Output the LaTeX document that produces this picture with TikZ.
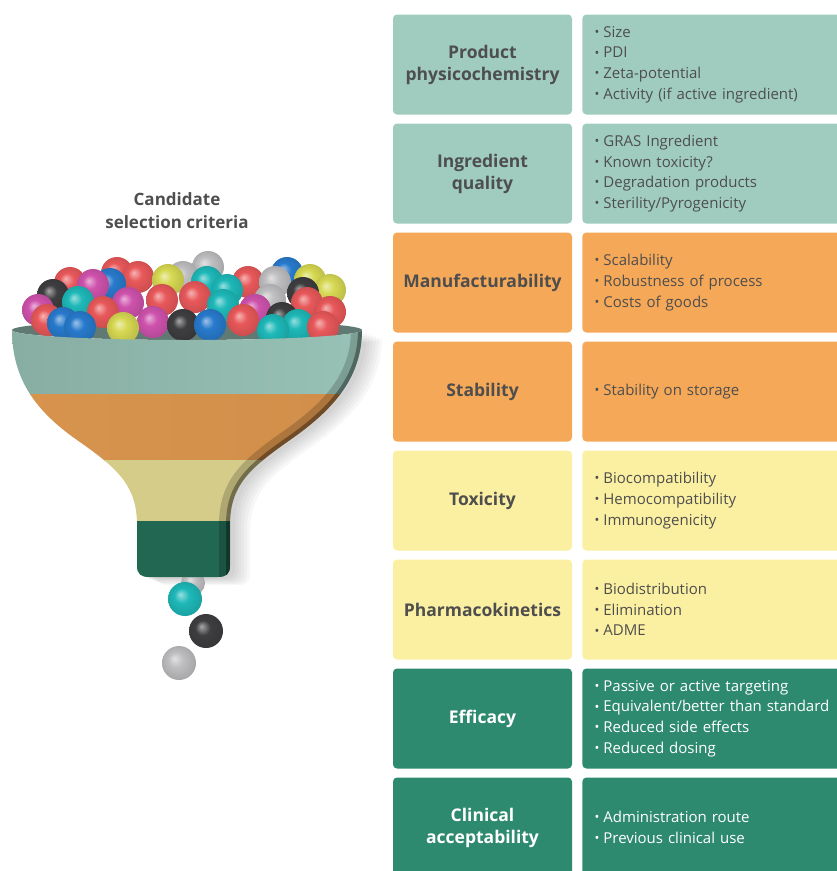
\documentclass[tikz,border=0pt]{standalone}
\usepackage{fontspec}
\setmainfont{Open Sans}
\usepackage{graphicx}
\usetikzlibrary{positioning}
\definecolor{critteal}{RGB}{160, 204, 192}
\definecolor{critorange}{RGB}{245, 168, 88}
\definecolor{crityellow}{RGB}{251, 240, 162}
\definecolor{critgreen}{RGB}{46, 138, 110}
\definecolor{textgray}{RGB}{78, 78, 78}
\definecolor{ballred}{RGB}{232, 88, 90}
\definecolor{ballmag}{RGB}{206, 82, 172}
\definecolor{ballcyan}{RGB}{30, 184, 184}
\definecolor{ballblue}{RGB}{40, 122, 204}
\definecolor{ballyellow}{RGB}{214, 216, 82}
\definecolor{balldark}{RGB}{62, 62, 64}
\definecolor{ballgray}{RGB}{190, 190, 192}
\colorlet{candcol}{ballred}
\pgfdeclareradialshading[candcol]{candball}{\pgfpoint{-7bp}{7bp}}{color(0bp)=(candcol!45!white); color(11bp)=(candcol); color(26bp)=(candcol!88!black); color(34bp)=(candcol!65!black)}
\newcommand{\bul}{\makebox[21pt][r]{\raisebox{0.1ex}{\scalebox{0.85}{\textbullet}}\hspace{4pt}}}
\newcommand{\funnelpath}{(12,330) arc [start angle=180, end angle=0, x radius=175, y radius=10]
      .. controls (362,380) and (330,412) .. (290,440)
      .. controls (250,468) and (230,485) .. (230,525)
      -- (230,566) .. controls (230,574) and (226,577) .. (218,577)
      -- (149,577) .. controls (141,577) and (137,574) .. (137,566)
      -- (137,525) .. controls (137,485) and (117,468) .. (77,440)
      .. controls (37,412) and (12,380) .. cycle}
\tikzset{
  critbox/.style={rounded corners=4pt, minimum width=179pt, minimum height=100pt, inner sep=0pt,
    align=center, text=textgray, font=\fontsize{17.5}{22}\selectfont\bfseries},
  listbox/.style={rounded corners=4pt, minimum width=263pt, minimum height=100pt, inner xsep=0pt, inner ysep=0pt,
    text width=263pt, align=left, text=textgray, font=\fontsize{15}{20.7}\selectfont},
  tealrow/.style={fill=critteal},
  orangerow/.style={fill=critorange},
  yellowrow/.style={fill=crityellow},
  greenrow/.style={fill=critgreen, text=white},
  ball/.style={/utils/exec={\colorlet{candcol}{#1}}, shading=candball},
}

\begin{document}
\begin{tikzpicture}[x=1pt, y=-1pt]
  \useasboundingbox (0,0) rectangle (837,871);
  \clip (0,0) rectangle (837,871);

  % Funnel title
  \node[align=center, text=textgray, font=\fontsize{17}{23}\selectfont\bfseries] (crit) at (177,211) {Candidate\\selection criteria};

  % Soft shadow of the funnel
  \foreach \sh in {20,17,14,11,8,5}
    \fill[black, opacity=0.03, xshift=\sh pt, yshift=-0.4*\sh pt] \funnelpath;

  % Bowl inside
  \fill[critteal!60!black] (187,330) ellipse [x radius=175, y radius=10];

  % Candidates in the bowl
  \foreach \bx/\by/\bc in {208/267/ballgray, 287/273/ballblue, 117/273/ballred, 183/277/ballgray, 138/277/ballred,
      168/280/ballyellow, 310/280/ballyellow, 207/282/ballcyan, 248/282/ballred, 275/282/ballgray, 110/284/ballblue,
      70/283/ballred, 93/285/ballmag, 227/290/ballcyan, 330/290/ballyellow, 303/293/balldark, 53/295/balldark,
      270/300/ballgray, 195/297/ballred, 162/300/ballred, 78/302/ballcyan, 128/303/ballmag, 307/303/ballred,
      223/305/ballcyan, 38/310/ballmag, 255/310/ballmag, 103/312/ballred, 330/312/ballred,
      282/318/balldark, 243/320/ballred, 47/320/ballred, 153/322/ballmag, 63/323/ballblue, 298/325/ballcyan,
      183/325/balldark, 210/325/ballblue, 323/327/ballred, 80/327/ballblue, 273/330/ballcyan, 123/328/ballyellow}
    \shade[ball=\bc] (\bx,\by) circle [radius=16];

  % Candidate leaving the stem
  \shade[ball=ballgray] (193,583) circle [radius=12];

  % Funnel front
  \begin{scope}
    \clip \funnelpath;
    \shade[left color=critteal!85!black, middle color=critteal!45!white, right color=critteal!95!black] (12,320) rectangle (362,394);
    \shade[left color=critorange!88!black, middle color=critorange!95!white, right color=critorange!85!black] (20,394) rectangle (345,460);
    \shade[left color=crityellow!85!black, middle color=crityellow!70!white, right color=crityellow!85!black] (95,460) rectangle (270,521);
    \shade[left color=critgreen!75!black, middle color=critgreen!55!white, right color=critgreen!75!black] (137,521) rectangle (230,580);
    % darker right edge
    \draw[black, opacity=0.18, line width=22pt] (362,330) .. controls (362,380) and (330,412) .. (290,440)
      .. controls (250,468) and (230,485) .. (230,525) -- (230,590);
    \draw[black, opacity=0.35, line width=8pt] (362,330) .. controls (362,380) and (330,412) .. (290,440)
      .. controls (250,468) and (230,485) .. (230,525) -- (230,590);
  \end{scope}

  % Falling candidates
  \shade[ball=ballcyan] (185,599) circle [radius=17];
  \shade[ball=balldark] (206,631) circle [radius=17];
  \shade[ball=ballgray] (179,663) circle [radius=17];

  % Criteria
  \node[critbox, tealrow] (phys) at (482.5,64.5) {Product\\physicochemistry};
  \node[critbox, tealrow, below=8.6pt of phys] (qual) {Ingredient\\quality};
  \node[critbox, orangerow, below=8.6pt of qual] (manu) {Manufacturability};
  \node[critbox, orangerow, below=8.6pt of manu] (stab) {Stability};
  \node[critbox, yellowrow, below=8.6pt of stab] (tox) {Toxicity};
  \node[critbox, yellowrow, below=8.6pt of tox] (pk) {Pharmacokinetics};
  \node[critbox, greenrow, below=8.6pt of pk] (eff) {Efficacy};
  \node[critbox, greenrow, below=8.6pt of eff] (clin) {Clinical\\acceptability};

  % Details
  \node[listbox, tealrow, right=10pt of phys] (physlist) {\bul Size\\\bul PDI\\\bul Zeta-potential\\\bul Activity (if active ingredient)};
  \node[listbox, tealrow, right=10pt of qual] (quallist) {\bul GRAS Ingredient\\\bul Known toxicity?\\\bul Degradation products\\\bul Sterility/Pyrogenicity};
  \node[listbox, orangerow, right=10pt of manu] (manulist) {\bul Scalability\\\bul Robustness of process\\\bul Costs of goods};
  \node[listbox, orangerow, right=10pt of stab] (stablist) {\bul Stability on storage};
  \node[listbox, yellowrow, right=10pt of tox] (toxlist) {\bul Biocompatibility\\\bul Hemocompatibility\\\bul Immunogenicity};
  \node[listbox, yellowrow, right=10pt of pk] (pklist) {\bul Biodistribution\\\bul Elimination\\\bul ADME};
  \node[listbox, greenrow, right=10pt of eff] (efflist) {\bul Passive or active targeting\\\bul Equivalent/better than standard\\\bul Reduced side effects\\\bul Reduced dosing};
  \node[listbox, greenrow, right=10pt of clin] (clinlist) {\bul Administration route\\\bul Previous clinical use};
\end{tikzpicture}
\end{document}
